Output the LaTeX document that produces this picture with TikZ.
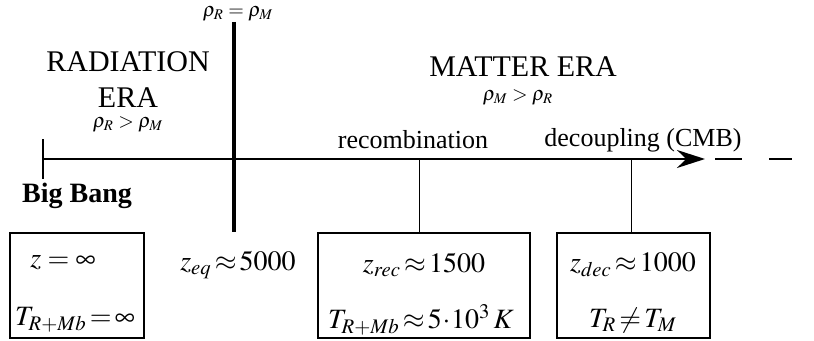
\documentclass[tikz,border=0pt]{standalone}
\usepackage{mathptmx}
\usepackage{fontspec}
\setmainfont{Liberation Serif}
\usetikzlibrary{arrows.meta,positioning}

\begin{document}
\begin{tikzpicture}[x=0.5pt, y=-0.5pt, >={Stealth[length=14pt,width=9pt]},
    era/.style={font=\fontsize{15}{18}\selectfont, align=center},
    event/.style={font=\fontsize{13}{13}\selectfont},
    dens/.style={font=\fontsize{10}{10}\selectfont, inner sep=1pt},
    val/.style={font=\fontsize{14}{14}\selectfont, inner sep=1pt},
    epoch/.style={draw, line width=0.6pt, minimum height=52.5pt},
    tick/.style={line width=0.5pt}]
    \useasboundingbox (0,0) rectangle (814,341);

    % time axis
    \coordinate (bb) at (43,159);
    \coordinate (tip) at (705,159);
    \coordinate (rec) at (419,159);
    \coordinate (dec) at (631,159);
    \draw[line width=1pt, ->] (bb) -- (tip);
    \draw[line width=1pt] ([yshift=-10]bb) -- ([yshift=10]bb);
    \draw[line width=1pt, dash pattern=on 13.5pt off 13.5pt] ([xshift=5]tip) -- (792,159);

    % equality line
    \coordinate (eqtop) at (234,22);
    \coordinate (eqbot) at (234,232);
    \draw[line width=2pt] (eqtop) -- (eqbot);
    \node[dens, inner sep=0pt] (eq) at (238,14) {$\rho_{R}=\rho_{M}$};

    % eras
    \node[era] (rad) at (128,80) {RADIATION\\ERA};
    \node[dens] (radrho) at (128,124) {$\rho_{R}>\rho_{M}$};
    \node[era] (mat) at (523,67) {MATTER ERA};
    \node[dens] (matrho) at (518,97) {$\rho_{M}>\rho_{R}$};

    % events
    \node[event] (recname) at (413,140) {recombination};
    \node[event] (decname) at (643,140) {decoupling (CMB)};
    \node[font=\fontsize{14}{14}\selectfont\bfseries] (bang) at (77,196) {Big Bang};

    % boxes
    \node[epoch, minimum width=67pt] (b1) at (77,285.5) {};
    \node[epoch, minimum width=106pt] (b2) at (424,285.5) {};
    \node[epoch, minimum width=76.5pt] (b3) at (633.5,285.5) {};

    \draw[tick] (rec) -- (rec |- b2.north);
    \draw[tick] (dec) -- (dec |- b3.north);

    \node[val] (z1) at (63,263) {$z=\infty$};
    \node[val] (t1) at (75,320) {$T_{R+Mb}\!=\!\infty$};
    \node[val] (zeq) at (238,265) {$z_{eq}\!\approx\!5000$};
    \node[val] (z2) at (424,265) {$z_{rec}\!\approx\!1500$};
    \node[val] (t2) at (421,320) {$T_{R+Mb}\!\approx\!5\!\cdot\!10^{3}\,K$};
    \node[val] (z3) at (633,265) {$z_{dec}\!\approx\!1000$};
    \node[val] (t3) at (633,320) {$T_{R}\!\neq\!T_{M}$};
\end{tikzpicture}
\end{document}
